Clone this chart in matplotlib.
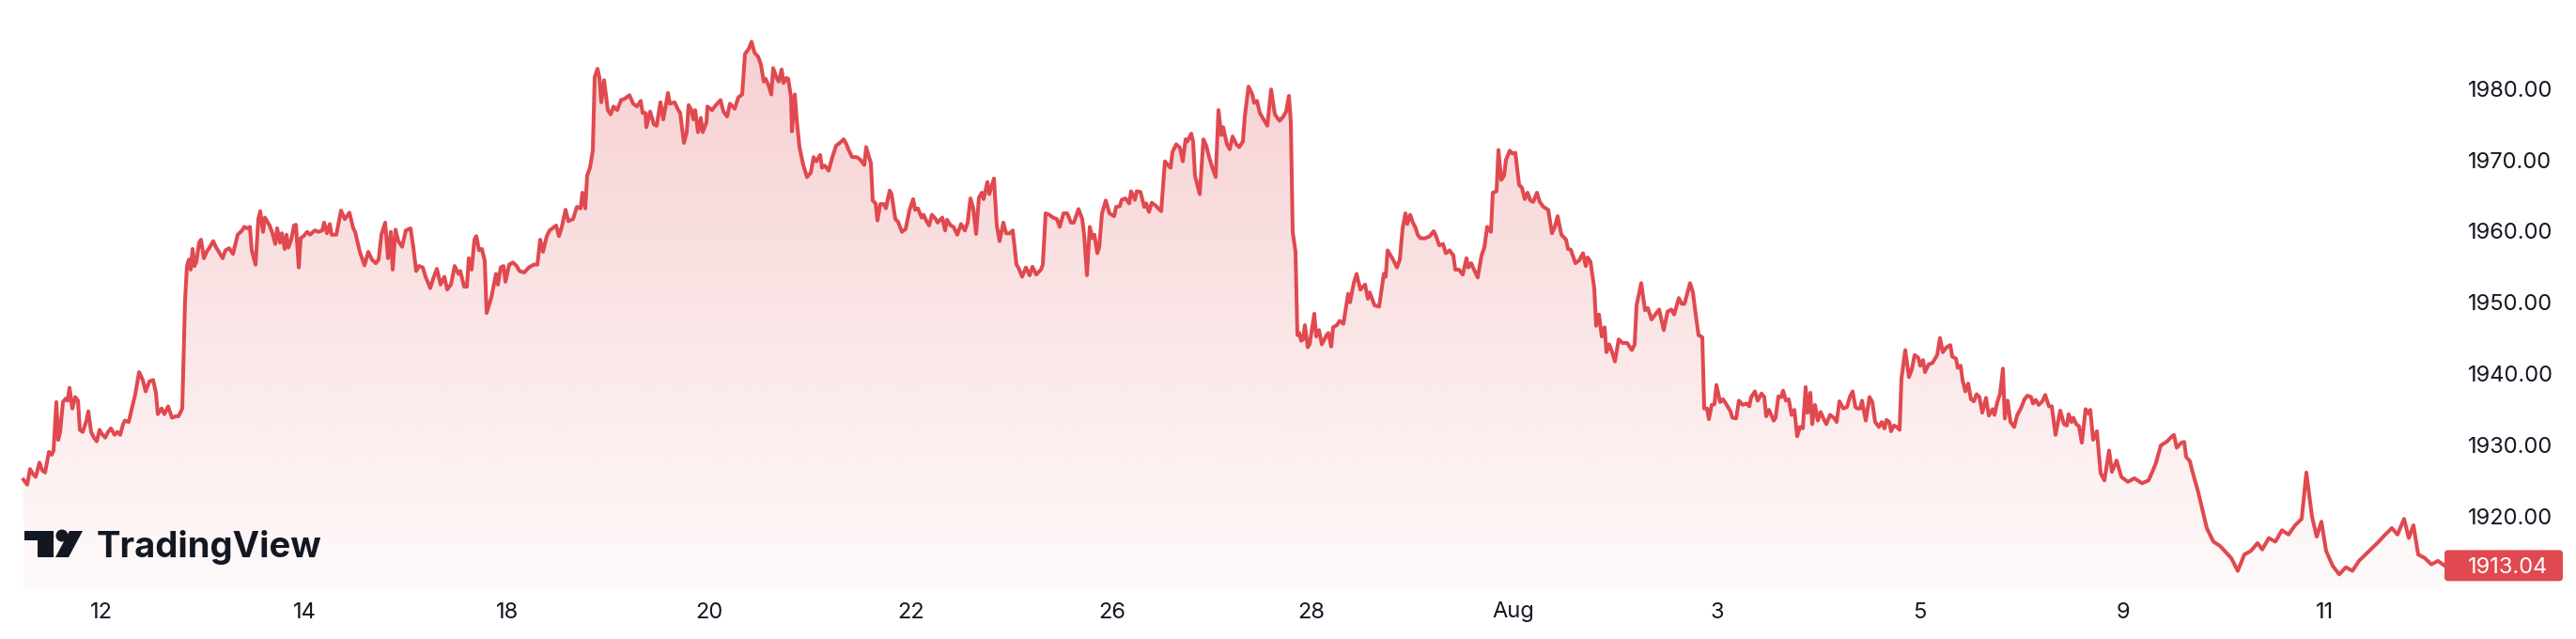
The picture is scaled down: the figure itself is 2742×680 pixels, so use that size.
import matplotlib
matplotlib.use("Agg")
import matplotlib.pyplot as plt
import numpy as np
from matplotlib.patches import Polygon, Circle, FancyBboxPatch

# price series (bar index, price)
bars = [
    0, 4, 7, 10, 13, 17, 20, 23, 27, 30,
    32, 35, 37, 39, 42, 45, 47, 49, 52, 55,
    58, 60, 63, 67, 69, 72, 75, 78, 81, 83,
    87, 90, 93, 97, 100, 103, 106, 108, 112, 115,
    119, 123, 127, 130, 134, 138, 141, 143, 147, 150,
    154, 158, 162, 165, 169, 172, 174, 176, 178, 180,
    182, 184, 187, 189, 192, 195, 198, 202, 205, 208,
    212, 215, 219, 223, 228, 232, 235, 238, 241, 243,
    247, 250, 252, 255, 257, 262, 265, 268, 270, 273,
    275, 278, 280, 282, 285, 288, 290, 293, 295, 298,
    302, 305, 310, 314, 318, 320, 323, 326, 328, 333,
    338, 342, 347, 351, 353, 358, 363, 367, 371, 375,
    378, 381, 385, 388, 391, 393, 396, 399, 403, 407,
    412, 415, 418, 421, 425, 428, 433, 436, 440, 444,
    448, 451, 455, 459, 463, 465, 469, 472, 474, 477,
    480, 482, 485, 488, 491, 493, 498, 503, 505, 508,
    511, 513, 517, 521, 525, 528, 533, 538, 543, 547,
    550, 553, 557, 560, 563, 567, 570, 573, 577, 580,
    585, 589, 593, 595, 598, 600, 603, 606, 608, 611,
    613, 615, 618, 622, 625, 628, 632, 636, 640, 645,
    649, 653, 657, 659, 662, 663, 667, 671, 674, 678,
    681, 686, 688, 693, 697, 699, 703, 706, 708, 711,
    713, 715, 718, 721, 723, 727, 728, 733, 737, 742,
    745, 749, 752, 757, 761, 765, 768, 772, 775, 778,
    782, 785, 788, 790, 793, 796, 798, 802, 804, 807,
    809, 812, 814, 817, 818, 821, 823, 826, 830, 834,
    838, 841, 844, 848, 850, 853, 857, 861, 865, 869,
    873, 876, 878, 882, 887, 891, 895, 897, 900, 902,
    904, 907, 909, 912, 916, 918, 922, 924, 928, 931,
    935, 939, 943, 947, 949, 952, 956, 958, 962, 964,
    967, 971, 973, 978, 981, 983, 987, 990, 994, 998,
    1002, 1005, 1008, 1011, 1014, 1017, 1020, 1022, 1026, 1028,
    1031, 1033, 1036, 1039, 1043, 1046, 1050, 1053, 1057, 1059,
    1063, 1067, 1071, 1074, 1078, 1083, 1085, 1088, 1092, 1096,
    1100, 1103, 1107, 1111, 1115, 1118, 1123, 1127, 1129, 1132,
    1135, 1138, 1140, 1143, 1145, 1148, 1152, 1156, 1161, 1163,
    1167, 1169, 1173, 1177, 1179, 1183, 1185, 1189, 1193, 1195,
    1198, 1201, 1205, 1211, 1215, 1218, 1221, 1223, 1227, 1231,
    1234, 1237, 1239, 1243, 1245, 1247, 1252, 1256, 1259, 1262,
    1266, 1269, 1272, 1275, 1277, 1281, 1284, 1287, 1291, 1294,
    1298, 1300, 1304, 1308, 1310, 1313, 1316, 1320, 1324, 1328,
    1332, 1337, 1341, 1344, 1347, 1349, 1351, 1354, 1356, 1358,
    1360, 1362, 1364, 1367, 1369, 1374, 1376, 1379, 1382, 1387,
    1389, 1392, 1394, 1398, 1401, 1405, 1410, 1412, 1416, 1419,
    1423, 1428, 1431, 1433, 1438, 1443, 1448, 1450, 1452, 1457,
    1462, 1465, 1468, 1471, 1473, 1476, 1479, 1482, 1484, 1487,
    1492, 1497, 1501, 1503, 1507, 1511, 1514, 1518, 1522, 1524,
    1528, 1532, 1536, 1538, 1541, 1544, 1548, 1552, 1555, 1558,
    1562, 1564, 1568, 1570, 1573, 1576, 1578, 1582, 1585, 1588,
    1592, 1595, 1598, 1601, 1604, 1607, 1611, 1614, 1618, 1623,
    1627, 1630, 1633, 1637, 1642, 1644, 1647, 1652, 1656, 1660,
    1663, 1665, 1668, 1672, 1674, 1677, 1680, 1683, 1685, 1688,
    1691, 1694, 1698, 1702, 1707, 1712, 1715, 1717, 1722, 1726,
    1729, 1733, 1737, 1741, 1746, 1750, 1754, 1757, 1762, 1765,
    1768, 1774, 1777, 1780, 1783, 1787, 1789, 1792, 1794, 1797,
    1800, 1802, 1806, 1809, 1813, 1817, 1819, 1823, 1826, 1830,
    1834, 1837, 1839, 1843, 1846, 1850, 1853, 1855, 1858, 1863,
    1865, 1868, 1871, 1873, 1876, 1879, 1882, 1885, 1888, 1891,
    1894, 1897, 1899, 1902, 1904, 1907, 1910, 1913, 1917, 1919,
    1923, 1927, 1930, 1933, 1937, 1941, 1944, 1947, 1950, 1952,
    1955, 1957, 1961, 1965, 1968, 1971, 1975, 1978, 1981, 1983,
    1986, 1988, 1991, 1994, 1997, 1999, 2003, 2007, 2010, 2013,
    2017, 2019, 2022, 2024, 2028, 2032, 2037, 2040, 2043, 2047,
    2051, 2053, 2057, 2059, 2062, 2064, 2067, 2070, 2073, 2076,
    2079, 2082, 2085, 2089, 2092, 2096, 2098, 2101, 2104, 2107,
    2109, 2112, 2115, 2119, 2122, 2126, 2130, 2133, 2137, 2139,
    2142, 2145, 2149, 2152, 2156, 2159, 2163, 2168, 2172, 2175,
    2177, 2180, 2182, 2185, 2188, 2191, 2195, 2198, 2200, 2203,
    2207, 2211, 2215, 2220, 2223, 2228, 2233, 2240, 2247, 2255,
    2262, 2267, 2270, 2275, 2282, 2287, 2289, 2292, 2297, 2300,
    2302, 2306, 2308, 2315, 2324, 2331, 2338, 2343, 2350, 2357,
    2364, 2371, 2378, 2383, 2390, 2397, 2404, 2411, 2418, 2425,
    2430, 2436, 2441, 2446, 2451, 2458, 2465, 2472, 2479, 2486,
    2493, 2500, 2507, 2514, 2521, 2527, 2534, 2539, 2544, 2549,
    2556, 2563, 2570, 2577,
]

prices = [
    1925.1, 1924.4, 1926.6, 1925.9, 1925.5, 1927.5, 1926.4, 1926.1, 1929.0, 1928.6,
    1929.2, 1936.0, 1930.7, 1931.8, 1936.0, 1936.5, 1936.2, 1938.0, 1935.1, 1936.7,
    1936.2, 1932.1, 1931.8, 1933.4, 1934.7, 1931.8, 1931.0, 1930.5, 1932.1, 1931.6,
    1931.0, 1931.8, 1932.3, 1931.4, 1931.8, 1931.4, 1932.9, 1933.4, 1933.2, 1934.9,
    1937.1, 1940.2, 1939.1, 1937.5, 1938.9, 1939.1, 1937.3, 1934.3, 1935.1, 1934.3,
    1935.4, 1933.8, 1934.0, 1934.0, 1935.1, 1950.3, 1955.1, 1956.0, 1954.6, 1957.5,
    1955.1, 1955.7, 1958.4, 1958.8, 1956.2, 1957.1, 1957.7, 1958.6, 1957.7, 1957.1,
    1956.2, 1957.3, 1957.6, 1956.8, 1959.5, 1960.0, 1960.6, 1960.4, 1960.6, 1957.3,
    1955.3, 1961.7, 1962.8, 1959.9, 1961.9, 1960.8, 1959.7, 1958.2, 1960.4, 1958.4,
    1959.7, 1957.5, 1959.5, 1957.7, 1958.8, 1960.8, 1960.9, 1954.9, 1959.0, 1959.3,
    1959.9, 1959.5, 1960.1, 1959.9, 1960.1, 1961.2, 1959.7, 1961.0, 1959.5, 1959.5,
    1962.9, 1961.7, 1962.6, 1960.4, 1959.9, 1957.1, 1955.2, 1957.1, 1956.0, 1955.5,
    1956.0, 1959.5, 1961.2, 1956.2, 1959.9, 1954.6, 1960.2, 1958.6, 1957.8, 1960.1,
    1960.4, 1957.7, 1954.4, 1955.1, 1954.9, 1953.6, 1952.0, 1953.3, 1954.7, 1952.5,
    1953.6, 1951.8, 1952.5, 1955.1, 1954.0, 1954.4, 1952.2, 1952.2, 1956.2, 1954.6,
    1958.8, 1959.3, 1957.3, 1957.5, 1955.8, 1948.5, 1950.7, 1954.0, 1952.5, 1954.9,
    1955.1, 1952.9, 1955.3, 1955.6, 1955.1, 1954.4, 1954.2, 1954.9, 1955.3, 1955.3,
    1958.8, 1957.1, 1959.3, 1960.1, 1960.4, 1960.8, 1959.3, 1960.6, 1963.0, 1961.4,
    1961.7, 1963.4, 1963.2, 1965.4, 1963.2, 1967.8, 1968.9, 1971.3, 1981.6, 1982.8,
    1981.6, 1978.1, 1981.2, 1977.0, 1976.4, 1977.5, 1977.0, 1978.4, 1978.6, 1979.1,
    1977.9, 1977.5, 1978.3, 1976.6, 1976.6, 1974.6, 1976.8, 1975.0, 1974.8, 1978.1,
    1975.7, 1979.4, 1977.9, 1978.1, 1977.0, 1976.6, 1972.4, 1973.9, 1977.7, 1977.0,
    1975.7, 1977.0, 1973.9, 1975.9, 1973.9, 1975.3, 1977.5, 1977.0, 1977.7, 1978.4,
    1976.8, 1976.1, 1977.9, 1977.2, 1978.8, 1979.2, 1984.9, 1985.6, 1986.6, 1985.1,
    1984.5, 1983.4, 1981.0, 1981.4, 1980.5, 1979.2, 1982.9, 1981.4, 1981.0, 1982.7,
    1980.8, 1981.5, 1981.4, 1978.8, 1974.0, 1979.2, 1975.7, 1971.8, 1969.3, 1967.6,
    1968.2, 1970.4, 1969.8, 1970.7, 1968.9, 1969.2, 1968.5, 1970.4, 1972.0, 1972.4,
    1972.9, 1972.2, 1971.5, 1970.4, 1970.4, 1970.0, 1969.3, 1971.8, 1970.4, 1969.6,
    1964.3, 1963.9, 1961.5, 1963.8, 1963.8, 1963.2, 1965.7, 1965.2, 1961.7, 1961.3,
    1959.9, 1960.3, 1962.9, 1964.5, 1963.0, 1963.2, 1961.9, 1962.3, 1961.2, 1960.8,
    1962.3, 1961.7, 1961.2, 1961.9, 1960.1, 1961.6, 1960.8, 1960.6, 1959.5, 1961.0,
    1960.1, 1961.2, 1964.6, 1963.2, 1959.6, 1964.7, 1965.4, 1964.5, 1966.9, 1965.2,
    1966.5, 1967.4, 1960.8, 1958.6, 1961.2, 1959.7, 1959.7, 1960.1, 1955.3, 1954.9,
    1953.6, 1954.9, 1953.8, 1955.0, 1953.9, 1954.6, 1955.3, 1962.5, 1962.3, 1961.9,
    1961.7, 1960.6, 1962.5, 1962.5, 1961.2, 1961.2, 1963.1, 1961.7, 1959.5, 1953.8,
    1960.6, 1959.0, 1959.5, 1956.9, 1957.7, 1962.5, 1964.3, 1962.5, 1962.1, 1963.4,
    1963.5, 1964.4, 1964.6, 1963.9, 1965.6, 1964.4, 1965.6, 1965.5, 1963.4, 1963.9,
    1962.7, 1964.0, 1963.6, 1962.8, 1969.8, 1969.3, 1968.9, 1971.1, 1972.2, 1971.7,
    1969.8, 1972.9, 1972.6, 1973.7, 1972.6, 1967.8, 1965.2, 1972.9, 1972.0, 1970.4,
    1968.7, 1967.6, 1977.0, 1973.5, 1974.6, 1972.2, 1971.5, 1973.3, 1972.2, 1971.8,
    1972.6, 1976.1, 1980.3, 1979.2, 1978.0, 1978.3, 1976.6, 1975.7, 1974.8, 1979.9,
    1976.4, 1975.5, 1976.1, 1976.8, 1979.0, 1975.3, 1959.9, 1957.1, 1945.4, 1945.7,
    1944.6, 1944.8, 1946.8, 1943.7, 1944.1, 1948.4, 1945.2, 1946.1, 1944.1, 1945.4,
    1945.7, 1943.8, 1946.5, 1946.8, 1947.4, 1947.0, 1951.2, 1950.0, 1952.7, 1954.0,
    1951.8, 1952.5, 1950.5, 1951.4, 1949.6, 1949.4, 1954.0, 1953.6, 1957.3, 1956.2,
    1954.9, 1956.0, 1960.4, 1962.5, 1961.0, 1962.3, 1961.2, 1960.4, 1959.5, 1959.0,
    1959.0, 1959.3, 1960.0, 1959.5, 1958.0, 1958.2, 1956.9, 1957.3, 1956.6, 1954.6,
    1954.6, 1953.9, 1956.2, 1954.9, 1955.5, 1954.6, 1953.5, 1956.6, 1957.7, 1960.6,
    1959.9, 1965.4, 1965.6, 1971.4, 1967.2, 1967.8, 1970.0, 1971.3, 1970.9, 1971.0,
    1966.5, 1966.1, 1964.5, 1965.4, 1964.3, 1964.1, 1965.4, 1964.1, 1963.4, 1963.0,
    1959.7, 1960.6, 1962.1, 1959.5, 1958.8, 1957.5, 1957.4, 1955.5, 1955.9, 1956.9,
    1955.1, 1956.3, 1955.7, 1952.0, 1946.7, 1948.3, 1945.2, 1946.5, 1943.0, 1944.1,
    1943.0, 1941.7, 1944.8, 1944.3, 1944.3, 1943.3, 1944.1, 1949.6, 1952.7, 1948.9,
    1949.2, 1947.6, 1948.3, 1949.0, 1946.1, 1948.7, 1949.0, 1948.3, 1950.6, 1949.8,
    1949.8, 1952.7, 1951.4, 1948.3, 1945.4, 1945.1, 1935.1, 1935.1, 1933.6, 1935.6,
    1935.7, 1938.4, 1936.0, 1936.4, 1935.6, 1934.7, 1933.8, 1933.7, 1936.2, 1935.6,
    1935.8, 1935.4, 1936.7, 1937.5, 1936.2, 1937.2, 1936.7, 1934.0, 1934.9, 1933.4,
    1933.8, 1936.8, 1936.7, 1937.6, 1936.2, 1936.4, 1934.2, 1934.9, 1931.2, 1932.5,
    1932.3, 1938.1, 1934.5, 1937.3, 1932.9, 1935.6, 1933.4, 1934.6, 1933.4, 1932.9,
    1934.2, 1933.8, 1933.2, 1936.1, 1935.1, 1935.3, 1936.7, 1937.5, 1935.3, 1935.1,
    1935.1, 1936.2, 1933.4, 1936.7, 1936.0, 1933.2, 1932.5, 1933.2, 1932.3, 1933.5,
    1933.2, 1931.9, 1932.7, 1932.5, 1932.1, 1939.3, 1943.3, 1939.5, 1940.6, 1942.6,
    1942.2, 1941.1, 1941.9, 1940.2, 1941.3, 1941.5, 1942.6, 1945.0, 1943.0, 1943.7,
    1944.0, 1942.4, 1942.1, 1940.8, 1941.1, 1939.1, 1937.5, 1938.6, 1936.4, 1936.1,
    1937.1, 1936.7, 1934.5, 1936.6, 1934.1, 1935.0, 1934.2, 1936.0, 1937.2, 1940.7,
    1933.7, 1936.2, 1933.2, 1932.5, 1934.1, 1935.1, 1936.4, 1936.9, 1936.7, 1935.8,
    1936.3, 1935.6, 1936.1, 1937.0, 1935.4, 1935.4, 1931.4, 1934.8, 1932.9, 1932.7,
    1934.3, 1933.2, 1933.8, 1932.9, 1932.6, 1930.3, 1935.0, 1934.4, 1934.9, 1930.7,
    1931.9, 1926.0, 1925.0, 1929.2, 1926.2, 1927.8, 1925.5, 1924.8, 1925.3, 1924.6,
    1925.0, 1926.5, 1927.5, 1929.9, 1930.5, 1931.2, 1931.4, 1929.6, 1930.3, 1930.4,
    1928.3, 1927.7, 1926.6, 1923.3, 1918.3, 1916.4, 1915.8, 1915.1, 1914.1, 1912.3,
    1914.6, 1915.1, 1916.2, 1915.3, 1916.9, 1916.4, 1918.0, 1917.4, 1918.7, 1919.6,
    1926.1, 1919.9, 1917.1, 1919.2, 1915.1, 1913.0, 1911.8, 1912.8, 1912.3, 1913.7,
    1914.6, 1915.5, 1916.4, 1917.4, 1918.3, 1917.4, 1919.6, 1916.9, 1918.7, 1914.6,
    1914.1, 1913.2, 1913.7, 1913.04,
]

# time scale labels (bar index of each label)
tick_bars = [83, 299, 515, 730, 945, 1159, 1371, 1586, 1803, 2018, 2235, 2450]
tick_labels = ["12", "14", "18", "20", "22", "26", "28", "Aug", "3", "5", "9", "11"]
price_ticks = [1920, 1930, 1940, 1950, 1960, 1970, 1980]
last_price = 1913.04

assert len(bars) == len(prices)

W, H, DPI = 2742, 680, 100
RED = "#E0494F"
TEXT = "#131722"

plt.rcParams["font.family"] = ["Inter", "DejaVu Sans"]

fig = plt.figure(figsize=(W / DPI, H / DPI), dpi=DPI, facecolor="white")
pane_right, pane_bottom = 2605, 628
ax = fig.add_axes([0, (H - pane_bottom) / H, pane_right / W, pane_bottom / H])
ax.set_facecolor("white")

y_lo, y_hi = 1909.59, 1992.46
x_lo, x_hi = -25, pane_right - 25

# area with vertical gradient, clipped to the shape under the line
area = ax.fill_between(bars, prices, y_lo, facecolor="none", edgecolor="none")
rgb = matplotlib.colors.to_rgb(RED)
grad = np.zeros((256, 1, 4))
grad[..., :3] = rgb
grad[:, 0, 3] = np.linspace(0.26, 0.03, 256)
img = ax.imshow(grad, extent=[bars[0], bars[-1], y_lo, max(prices)],
                aspect="auto", origin="upper", zorder=1, interpolation="bilinear")
img.set_clip_path(area.get_paths()[0], transform=ax.transData)

ax.plot(bars, prices, color=RED, lw=2.9, solid_joinstyle="round", zorder=3)

ax.set_xlim(x_lo, x_hi)
ax.set_ylim(y_lo, y_hi)

for s in ax.spines.values():
    s.set_visible(False)

ax.set_xticks(tick_bars)
ax.set_xticklabels(tick_labels)
ax.yaxis.tick_right()
ax.set_yticks(price_ticks)
ax.set_yticklabels([f"{v:.2f}" for v in price_ticks])
ax.tick_params(axis="x", length=0, pad=9, labelsize=17, labelcolor=TEXT)
ax.tick_params(axis="y", length=0, pad=15.8, labelsize=17, labelcolor=TEXT)

# last price badge on the price scale
fig.canvas.draw()
y_disp = ax.transData.transform((0, last_price))[1]
badge = FancyBboxPatch((2602, y_disp - 16.5), 126, 33,
                       boxstyle="round,pad=0,rounding_size=4",
                       facecolor=RED, edgecolor="none", transform=None, zorder=5)
fig.add_artist(badge)
fig.text((pane_right + 22) / W, y_disp / H, f"{last_price:.2f}", color="white",
         fontsize=17, ha="left", va="center_baseline", zorder=6)


# TradingView logo, bottom-left
def fp(x, y):
    return (x / W, 1 - y / H)


logo = [
    Polygon([fp(26, 565), fp(57, 565), fp(57, 593), fp(40, 593), fp(40, 575), fp(26, 575)]),
    Polygon([fp(74, 565), fp(88, 565), fp(73, 593), fp(59, 593)]),
]
for p in logo:
    p.set_facecolor(TEXT)
    p.set_edgecolor("none")
    p.set_transform(fig.transFigure)
    fig.add_artist(p)
dot = Circle((66, H - 570), 6.5, facecolor=TEXT, edgecolor="none", transform=None)
fig.add_artist(dot)
fig.text(103 / W, 1 - 593 / H, "TradingView", fontsize=27.5, fontweight="bold",
         color=TEXT, ha="left", va="baseline")

fig.savefig("out.png", dpi=DPI, facecolor="white")
